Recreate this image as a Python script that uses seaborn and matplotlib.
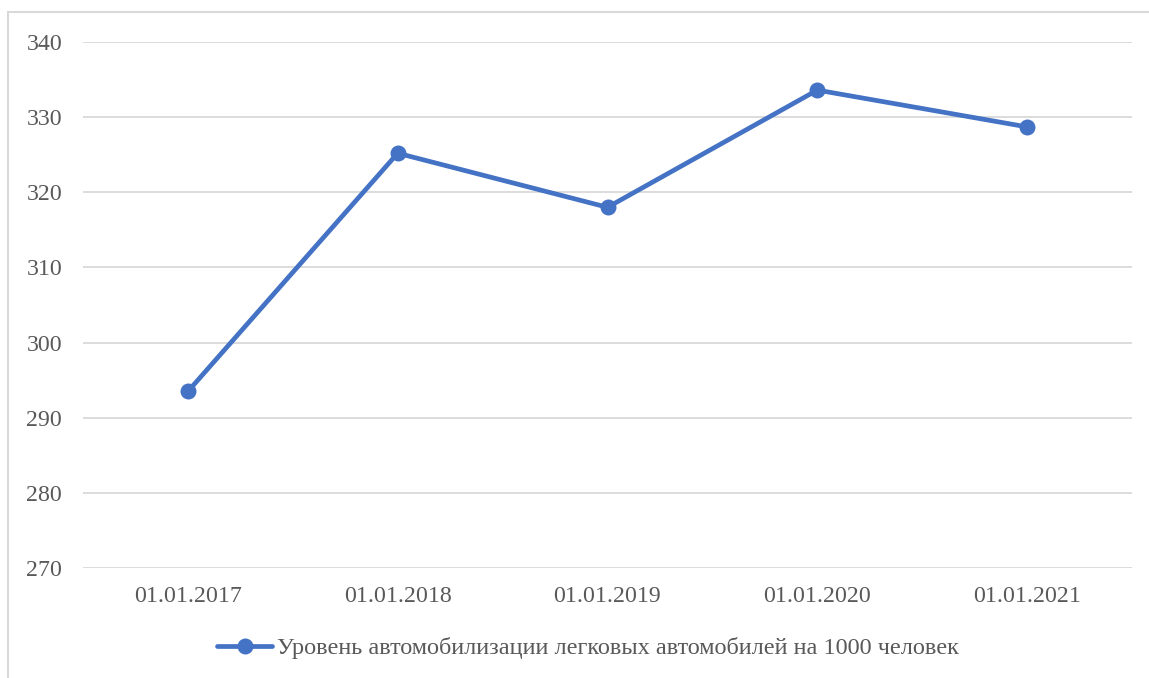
import matplotlib
matplotlib.use("Agg")
import matplotlib.pyplot as plt
from matplotlib.patches import Rectangle
import seaborn as sns
import pandas as pd

dates = ["01.01.2017", "01.01.2018", "01.01.2019", "01.01.2020", "01.01.2021"]
values = [293.5, 325.2, 318.0, 333.6, 328.7]
series_name = "Уровень автомобилизации легковых автомобилей на 1000 человек"

sns.set_style("white")
plt.rcParams['font.family'] = ['Liberation Serif', 'DejaVu Serif']

df = pd.DataFrame({"date": dates, "value": values})

fig = plt.figure(figsize=(11.49, 6.78), dpi=100)
ax = fig.add_axes([83 / 1149, 1 - 568 / 678, (1132 - 83) / 1149, (568 - 42) / 678])

sns.lineplot(data=df, x="date", y="value", sort=False, ax=ax,
             color="#4472C4", linewidth=3.4, marker="o", markersize=11.5,
             markeredgewidth=0, label=series_name, legend=False)

ax.set_ylim(270, 340)
ax.set_xlim(-0.5, len(dates) - 0.5)
ax.set_yticks(range(270, 341, 10))
ax.grid(axis="y", color="#d9d9d9", linewidth=1.3)
ax.grid(axis="x", visible=False)
ax.set_axisbelow(True)
for side in ["top", "right", "left", "bottom"]:
    ax.spines[side].set_visible(False)
ax.set_xlabel("")
ax.set_ylabel("")
ax.tick_params(axis="y", length=0, pad=15, labelsize=17.2, labelcolor="#595959")
ax.tick_params(axis="x", length=0, pad=13, labelsize=17.2, labelcolor="#595959")

handles, labels = ax.get_legend_handles_labels()
fig.legend(handles, labels, loc="center", bbox_to_anchor=(588 / 1149, 1 - 648 / 678),
           frameon=False, fontsize=17.5, labelcolor="#595959",
           handlelength=2.25, handletextpad=0.2)

# outer chart frame (cut off at right and bottom)
fig.patches.append(Rectangle((8 / 1149, -0.1), 1.2, 1.1 - 12 / 678,
                             transform=fig.transFigure, fill=False,
                             edgecolor="#d9d9d9", linewidth=1.5))

fig.savefig("out.png", dpi=100)
